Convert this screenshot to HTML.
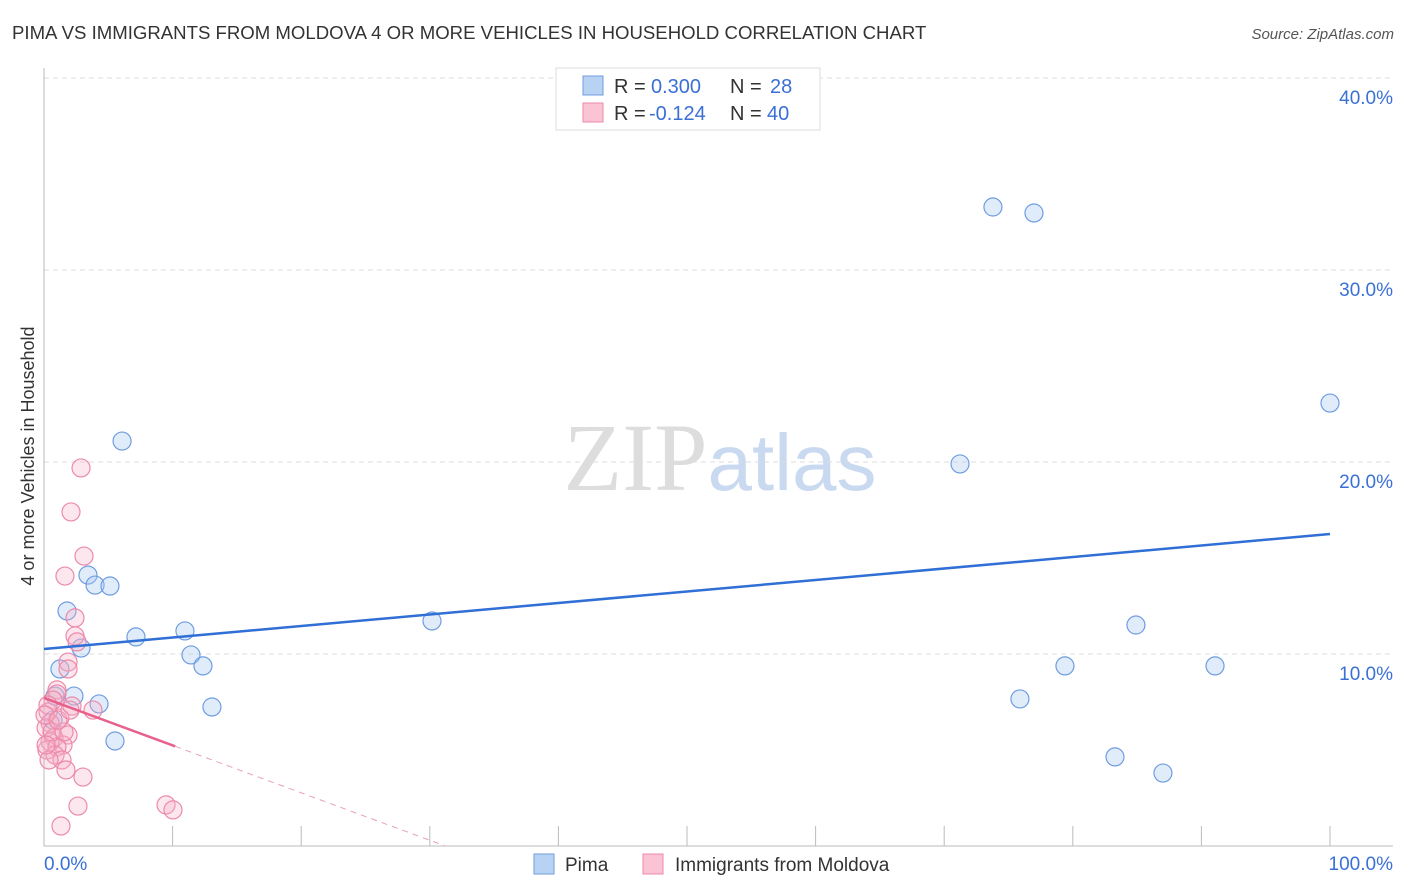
<!DOCTYPE html>
<html><head><meta charset="utf-8"><style>
body{margin:0;background:#fff;font-family:"Liberation Sans",sans-serif;}
svg{display:block}
</style></head><body>
<svg id="chart" width="1406" height="892" xmlns="http://www.w3.org/2000/svg" font-family="Liberation Sans, sans-serif">
<text x="12" y="39" font-size="18.6" fill="#333">PIMA VS IMMIGRANTS FROM MOLDOVA 4 OR MORE VEHICLES IN HOUSEHOLD CORRELATION CHART</text>
<text x="1394" y="39" font-size="15" fill="#555" text-anchor="end" font-style="italic">Source: ZipAtlas.com</text>
<text x="720" y="490" font-size="96" text-anchor="middle"><tspan fill="#ddd" font-family="Liberation Serif, serif">ZIP</tspan><tspan fill="#c9d9f0" font-size="80">atlas</tspan></text>
<text transform="translate(34,456) rotate(-90)" font-size="18" fill="#333" text-anchor="middle">4 or more Vehicles in Household</text>
<g id="grid"></g><g id="marks"></g>
<g>
<rect x="556" y="68" width="264" height="62" fill="#fff" stroke="#ddd"/>
<rect x="583" y="76" width="20" height="19" fill="#b8d2f4" stroke="#6f9de0"/>
<rect x="583" y="103" width="20" height="19" fill="#fac4d4" stroke="#ec8aaa"/>
<text x="614" y="93" font-size="20" fill="#333">R =</text>
<text x="651" y="93" font-size="20" fill="#3a70d6">0.300</text>
<text x="730" y="93" font-size="20" fill="#333">N =</text>
<text x="770" y="93" font-size="20" fill="#3a70d6">28</text>
<text x="614" y="120" font-size="20" fill="#333">R =</text>
<text x="649" y="120" font-size="20" fill="#3a70d6">-0.124</text>
<text x="730" y="120" font-size="20" fill="#333">N =</text>
<text x="767" y="120" font-size="20" fill="#3a70d6">40</text>
</g>
<g>
<rect x="534" y="854" width="20" height="20" fill="#b8d2f4" stroke="#6f9de0"/>
<text x="565" y="871" font-size="19" fill="#333">Pima</text>
<rect x="643" y="854" width="20" height="20" fill="#fac4d4" stroke="#ec8aaa"/>
<text x="675" y="871" font-size="19" fill="#333">Immigrants from Moldova</text>
</g>
</svg>
<script>
const yTicks=[10,20,30,40];
const yTickLabels=["10.0%","20.0%","30.0%","40.0%"];
const xTickLabels=["0.0%","100.0%"];
const pimaX=[6.07,3.42,3.97,5.13,1.79,7.15,10.96,2.88,11.43,12.36,1.24,0.86,2.33,4.28,13.06,5.52,30.17,73.79,76.98,100,71.23,84.91,79.39,91.06,75.89,83.28,87.01,0.7];
const pimaY=[21.09,14.11,13.59,13.54,12.24,10.89,11.2,10.31,9.95,9.38,9.22,7.81,7.81,7.40,7.24,5.47,11.72,33.28,32.97,23.07,19.9,11.51,9.38,9.38,7.66,4.64,3.80,6.56];
const molX=[2.88,2.1,3.11,1.63,2.41,2.41,2.57,1.87,1.87,1.01,1.01,0.7,2.18,3.81,0.31,1.24,0.47,0.16,0.78,1.87,1.48,0.47,0.23,1.01,0.86,1.4,1.71,3.03,2.64,1.32,9.49,10.03,0.31,0.62,1.56,0.08,1.09,0.39,2.02,0.16];
const molY=[19.69,17.4,15.1,14.06,11.88,10.94,10.63,9.58,9.22,8.13,7.92,7.6,7.29,7.08,6.98,6.67,6.41,6.15,5.63,5.78,5.26,5.42,5.0,5.16,4.74,4.48,3.96,3.59,2.08,1.04,2.14,1.88,7.34,5.94,5.94,6.82,6.56,4.48,7.08,5.26];
const pimaTrend=[10.26,16.25];
const molTrend=[7.71,-0.247];
const sx=v=>44+v*12.86, sy=v=>846-v*19.2;
const NS="http://www.w3.org/2000/svg";
function mk(t,a,p){const e=document.createElementNS(NS,t);for(const k in a)e.setAttribute(k,a[k]);p.appendChild(e);return e;}
const g=document.getElementById('grid'), m=document.getElementById('marks');
yTicks.forEach((t,i)=>{
 const l=mk('line',{x1:44,x2:1393,y1:sy(t),y2:sy(t),stroke:'#ddd','stroke-dasharray':'5,4'},g);
 
 
 const tx=mk('text',{x:1393,y:sy(t)+26,'font-size':19,fill:'#3a70d6','text-anchor':'end'},g);
 tx.textContent=yTickLabels[i];
 
 
});
const ax=mk('path',{d:'M44 68V846H1393',fill:'none',stroke:'#bbb'},g);


for(let i=1;i<=10;i++){const t=mk('line',{x1:sx(i*10),x2:sx(i*10),y1:826,y2:846,stroke:'#bbb'},g);
 
 }
[[xTickLabels[0],44,'start'],[xTickLabels[1],1393,'end']].forEach(d=>{const t=mk('text',{x:d[1],y:870,'font-size':19,fill:'#3a70d6','text-anchor':d[2]},g);t.textContent=d[0];
 
 });
pimaX.forEach((x,i)=>{const c=mk('circle',{cx:sx(x),cy:sy(pimaY[i]),r:9,fill:'rgba(170,200,240,0.35)',stroke:'#6f9de0','stroke-width':1.2},m);
 
 });
molX.forEach((x,i)=>{const c=mk('circle',{cx:sx(x),cy:sy(molY[i]),r:9,fill:'rgba(245,175,200,0.3)',stroke:'#ec8aaa','stroke-width':1.2},m);
 
 });
const pl=mk('line',{x1:sx(0),y1:sy(pimaTrend[0]),x2:sx(100),y2:sy(pimaTrend[1]),stroke:'#2f6fd6','stroke-width':2.5},m);


const xe=10.2, xz=-molTrend[0]/molTrend[1];
const ml=mk('line',{x1:sx(0),y1:sy(molTrend[0]),x2:sx(xe),y2:sy(molTrend[0]+molTrend[1]*xe),stroke:'#e8608c','stroke-width':2.5},m);


const md=mk('line',{x1:sx(xe),y1:sy(molTrend[0]+molTrend[1]*xe),x2:sx(xz),y2:sy(0),stroke:'#e8a0b8','stroke-width':1,'stroke-dasharray':'6,5'},m);


</script>
</body></html>
